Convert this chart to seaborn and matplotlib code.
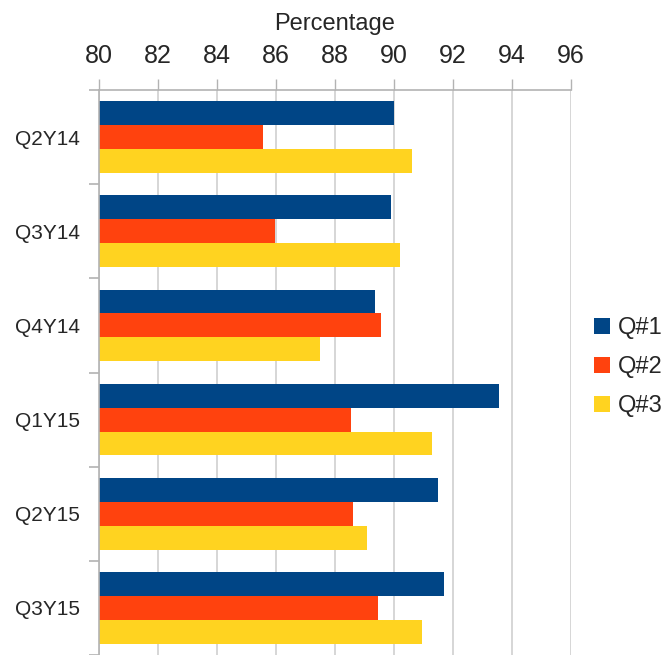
import matplotlib
matplotlib.use("Agg")
import matplotlib.pyplot as plt
import seaborn as sns
import pandas as pd
import numpy as np

categories = ["Q2Y14", "Q3Y14", "Q4Y14", "Q1Y15", "Q2Y15", "Q3Y15"]
series_names = ["Q#1", "Q#2", "Q#3"]
q1_values = [90.0, 89.9, 89.35, 93.55, 91.5, 91.7]
q2_values = [85.55, 85.95, 89.55, 88.55, 88.6, 89.45]
q3_values = [90.6, 90.2, 87.5, 91.3, 89.1, 90.95]
x_ticks = [80, 82, 84, 86, 88, 90, 92, 94, 96]
colors = ["#004586", "#ff420e", "#ffd320"]

rows = []
for name, vals in zip(series_names, [q1_values, q2_values, q3_values]):
    for c, v in zip(categories, vals):
        rows.append({"Quarter": c, "Series": name, "Percentage": v})
df = pd.DataFrame(rows)

sns.set_style("white")
plt.rcParams["font.family"] = ["Liberation Sans", "DejaVu Sans"]

fig = plt.figure(figsize=(6.68, 6.55), dpi=100)
ax = fig.add_axes([99 / 668, 0.0, (571 - 99) / 668, 1 - 90 / 655])

sns.barplot(data=df, y="Quarter", x="Percentage", hue="Series", order=categories,
            hue_order=series_names, palette=colors, orient="h", width=0.76,
            saturation=1, linewidth=0, ax=ax)

ax.set_xlim(80, 96)
ax.set_ylim(len(categories) - 0.5, -0.5)
ax.xaxis.tick_top()
ax.xaxis.set_label_position("top")
ax.set_xticks(x_ticks)
ax.set_xticklabels([str(t) for t in x_ticks], fontsize=18)
ax.set_xlabel("Percentage", fontsize=17, labelpad=10)
ax.set_ylabel("")
ax.set_yticks(range(len(categories)))
ax.set_yticklabels(categories, fontsize=15)
ax.set_yticks(np.arange(-0.5, len(categories), 1.0), minor=True)

grid_color = "#b3b3b3"
ax.grid(axis="x", color="#d0d0d0", linewidth=1.2)
ax.grid(axis="y", visible=False)
ax.set_axisbelow(True)
ax.tick_params(axis="x", which="major", direction="out", length=8, width=1,
               color=grid_color, pad=8, top=True, bottom=False)
ax.tick_params(axis="y", which="major", length=0, pad=14)
ax.tick_params(axis="y", which="minor", direction="out", length=7, width=1.2,
               color=grid_color, left=True)
for side in ["right", "bottom"]:
    ax.spines[side].set_visible(False)
for side in ["top", "left"]:
    ax.spines[side].set_color(grid_color)
    ax.spines[side].set_linewidth(1.2)

handles, labels = ax.get_legend_handles_labels()
leg = ax.legend(handles, labels, loc="center left",
                bbox_to_anchor=(594 / 668, 1 - 367 / 655), bbox_transform=fig.transFigure,
                frameon=False, fontsize=17, handlelength=0.68, handleheight=0.68,
                handletextpad=0.35, labelspacing=0.72, borderpad=0, borderaxespad=0)

fig.savefig("out.png", dpi=100)
